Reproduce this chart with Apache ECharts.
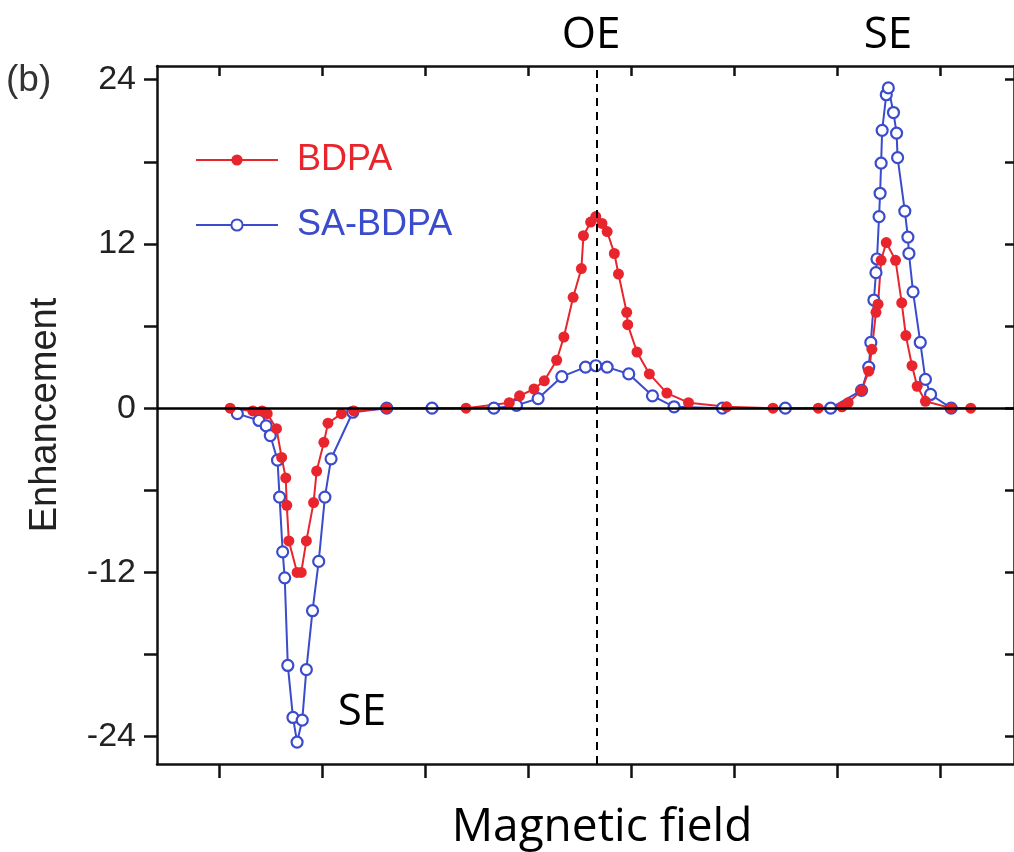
<!DOCTYPE html>
<html style="width:100%;height:100%">
<head>
    <meta charset="UTF-8">
    <title>Enhancement vs field</title>
    <script type="text/javascript" src="https://cdn.jsdelivr.net/npm/echarts@6/dist/echarts.min.js"></script>
</head>
<body style="width:100%;height:100%;margin:0;overflow:hidden;background:#fff">
    <div id="chart" style="width:1014px;height:852px"></div>

    <script type="text/javascript">
        var myChart = echarts.init(document.getElementById('chart'));

        // field in tick units (ticks at 1..8), enhancement
        var bdpaX = [1.11, 1.33, 1.42, 1.47, 1.56, 1.61, 1.65, 1.66, 1.68, 1.76, 1.80, 1.85, 1.92, 1.95, 2.02, 2.06, 2.19, 2.31, 2.63,
            3.40, 3.82, 3.92, 4.06, 4.16, 4.28, 4.35, 4.44, 4.52, 4.54, 4.61, 4.66, 4.72, 4.77, 4.84, 4.88, 4.96, 4.97, 5.06, 5.18, 5.35, 5.56, 5.93,
            6.38, 6.82, 7.05, 7.11, 7.24, 7.31, 7.34, 7.38, 7.40, 7.43, 7.48, 7.57, 7.63, 7.67, 7.73, 7.78, 7.86, 8.11, 8.30];
        var bdpaY = [0, -0.2, -0.2, -0.4, -1.5, -3.6, -5.1, -7.1, -9.7, -12.0, -12.0, -9.7, -6.9, -4.6, -2.5, -1.1, -0.4, -0.2, 0,
            0, 0.4, 0.9, 1.4, 2.0, 3.5, 5.2, 8.1, 10.2, 12.6, 13.6, 14.0, 13.5, 12.9, 11.3, 9.8, 7.0, 6.1, 4.1, 2.5, 1.1, 0.4, 0.1,
            0, 0, 0.1, 0.4, 1.3, 2.7, 4.3, 7.0, 7.6, 10.8, 12.1, 10.8, 7.7, 5.3, 3.1, 1.6, 0.5, 0, 0];

        var saX = [1.18, 1.39, 1.46, 1.50, 1.57, 1.59, 1.62, 1.64, 1.67, 1.72, 1.76, 1.81, 1.85, 1.91, 1.97, 2.03, 2.09, 2.30, 2.63,
            3.07, 3.67, 3.89, 4.10, 4.33, 4.56, 4.66, 4.77, 4.98, 5.21, 5.42, 5.89, 6.50, 6.94,
            7.24, 7.31, 7.33, 7.36, 7.38, 7.39, 7.41, 7.42, 7.43, 7.44, 7.48, 7.50, 7.55, 7.58, 7.59, 7.66, 7.69, 7.70, 7.74, 7.81, 7.86, 7.91, 8.11];
        var saY = [-0.4, -0.9, -1.3, -2.0, -3.8, -6.5, -10.5, -12.4, -18.8, -22.6, -24.4, -22.8, -19.1, -14.8, -11.2, -6.5, -3.7, -0.3, 0,
            0, 0, 0.2, 0.7, 2.3, 3.0, 3.1, 3.0, 2.5, 0.9, 0.1, 0, 0, 0,
            1.3, 3.0, 4.8, 7.9, 9.9, 10.9, 14.0, 15.7, 17.9, 20.3, 22.9, 23.4, 21.6, 20.1, 18.3, 14.4, 12.5, 11.3, 8.5, 4.8, 2.1, 1.0, 0];

        var yLabels = [-24, -12, 0, 12, 24];
        var yTicks = [-24, -18, -12, -6, 0, 6, 12, 18, 24];
        var xTicks = [1, 2, 3, 4, 5, 6, 7, 8];
        var oeField = 4.67;

        var red = '#e8252d';
        var blue = '#3a4bcc';

        function pairs(xs, ys) {
            return xs.map(function (x, i) { return [x, ys[i]]; });
        }

        var axisFont = 'Liberation Sans';
        var spine = { show: true, onZero: false, lineStyle: { color: '#111', width: 2.5 } };

        option = {
            animation: false,
            backgroundColor: '#fff',
            grid: { left: 157, top: 66, right: -2, bottom: 88 },
            legend: [{
                left: 190, top: 137,
                itemWidth: 82, itemHeight: 14,
                textStyle: { fontFamily: axisFont, fontSize: 36, color: red, padding: [0, 0, 0, 14] },
                data: ['BDPA']
            }, {
                left: 190, top: 202,
                itemWidth: 82, itemHeight: 14,
                textStyle: { fontFamily: axisFont, fontSize: 36, color: blue, padding: [0, 0, 0, 14] },
                data: ['SA-BDPA']
            }],
            xAxis: [{
                type: 'value', position: 'bottom',
                min: 0.4, max: 8.72,
                axisLine: spine,
                axisTick: { show: true, inside: false, length: 14, customValues: xTicks, lineStyle: { color: '#111', width: 2.5 } },
                axisLabel: { show: false },
                splitLine: { show: false }
            }, {
                type: 'value', position: 'top',
                min: 0.4, max: 8.72,
                axisLine: spine,
                axisTick: { show: true, inside: true, length: 10, customValues: xTicks, lineStyle: { color: '#111', width: 2.5 } },
                axisLabel: { show: false },
                splitLine: { show: false }
            }],
            yAxis: [{
                type: 'value', position: 'left',
                min: -26, max: 25,
                name: 'Enhancement',
                nameLocation: 'middle',
                nameGap: 92,
                nameTextStyle: { fontFamily: axisFont, fontSize: 38, color: '#222' },
                axisLine: spine,
                axisTick: { show: true, inside: false, length: 13, customValues: yTicks, lineStyle: { color: '#111', width: 2.5 } },
                axisLabel: { show: true, customValues: yLabels, margin: 21, fontFamily: axisFont, fontSize: 34, color: '#222' },
                splitLine: { show: false }
            }, {
                type: 'value', position: 'right',
                min: -26, max: 25,
                axisLine: spine,
                axisTick: { show: true, inside: true, length: 9, customValues: yTicks, lineStyle: { color: '#111', width: 2.5 } },
                axisLabel: { show: false },
                splitLine: { show: false }
            }],
            graphic: [{
                type: 'text', left: 6, top: 62,
                style: { text: '(b)', fontFamily: axisFont, fontSize: 37, fill: '#333' }
            }, {
                type: 'text', x: 591, y: 35,
                style: { text: 'OE', fontFamily: 'Open Sans', fontSize: 44, fill: '#000', align: 'center', verticalAlign: 'middle' }
            }, {
                type: 'text', x: 888, y: 35,
                style: { text: 'SE', fontFamily: 'Open Sans', fontSize: 44, fill: '#000', align: 'center', verticalAlign: 'middle' }
            }, {
                type: 'text', x: 362, y: 712,
                style: { text: 'SE', fontFamily: 'Open Sans', fontSize: 44, fill: '#000', align: 'center', verticalAlign: 'middle' }
            }, {
                type: 'text', x: 602, y: 828,
                style: { text: 'Magnetic field', fontFamily: 'Open Sans', fontSize: 46, fill: '#000', align: 'center', verticalAlign: 'middle' }
            }],
            series: [{
                name: 'SA-BDPA',
                type: 'line',
                data: pairs(saX, saY),
                symbol: 'circle',
                symbolSize: 11,
                lineStyle: { color: blue, width: 2 },
                itemStyle: { color: '#fff', borderColor: blue, borderWidth: 2.2 },
                markLine: {
                    silent: true,
                    symbol: 'none',
                    label: { show: false },
                    animation: false,
                    data: [
                        { yAxis: 0, lineStyle: { color: '#000', type: 'solid', width: 2.5 } },
                        { xAxis: oeField, lineStyle: { color: '#000', type: [8, 6], width: 2 } }
                    ]
                }
            }, {
                name: 'BDPA',
                type: 'line',
                data: pairs(bdpaX, bdpaY),
                symbol: 'circle',
                symbolSize: 11,
                lineStyle: { color: red, width: 2 },
                itemStyle: { color: red, borderColor: red, borderWidth: 0 }
            }]
        };

        myChart.setOption(option);
    </script>
</body>
</html>
